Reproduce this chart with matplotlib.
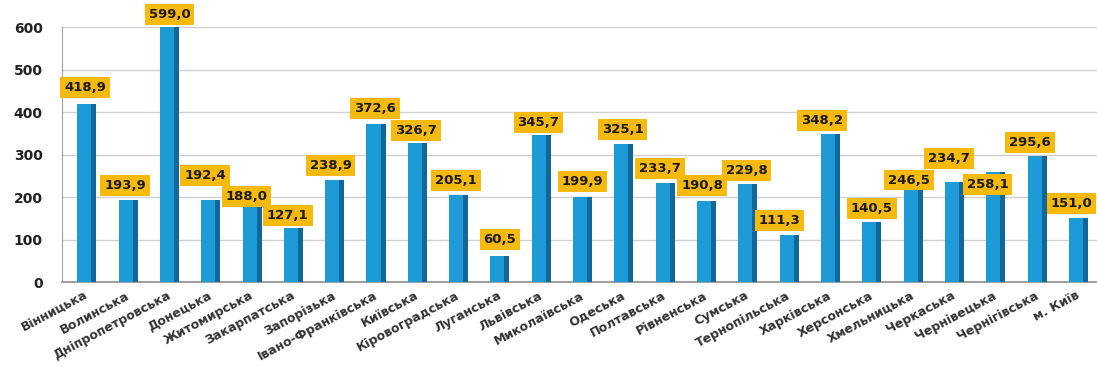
import matplotlib
matplotlib.use("Agg")
import matplotlib.pyplot as plt
import matplotlib.transforms as mtransforms
import numpy as np

regions = ["Вінницька", "Волинська", "Дніпропетровська", "Донецька", "Житомирська",
           "Закарпатська", "Запорізька", "Івано-Франківська", "Київська", "Кіровоградська",
           "Луганська", "Львівська", "Миколаївська", "Одеська", "Полтавська",
           "Рівненська", "Сумська", "Тернопільська", "Харківська", "Херсонська",
           "Хмельницька", "Черкаська", "Чернівецька", "Чернігівська", "м. Київ"]
values = [418.9, 193.9, 599.0, 192.4, 188.0, 127.1, 238.9, 372.6, 326.7, 205.1,
          60.5, 345.7, 199.9, 325.1, 233.7, 190.8, 229.8, 111.3, 348.2, 140.5,
          246.5, 234.7, 258.1, 295.6, 151.0]
yticks = [0, 100, 200, 300, 400, 500, 600]

# label offsets (points) relative to bar top
label_dx = [-1, -2, 0, -4, -4, -4, -3, -1, -1, -2, 0, -2, 0, -1, -4, -3, -1, -7, -6, 0,
            -3, -4, -6, -5, -5]
label_dy = [12, 10, 9, 18, 4, 9, 11, 11, 9, 10, 12, 9, 11, 10, 10, 11, 10, 10, 10, 10,
            -2, 17, -9, 10, 10]

fig = plt.figure(figsize=(10.97, 3.67), dpi=100)
ax = fig.add_axes([0.0565, 0.2316, 0.9435, 0.6948])

x = np.arange(len(values))
front_w = 0.34
side_w = 0.12
ax.bar(x - side_w / 2, values, width=front_w, color="#1d9bd6", zorder=3)
ax.bar(x + front_w / 2, values, width=side_w, color="#11679a", zorder=3)

ax.set_xlim(-0.6, 24.45)
ax.set_ylim(0, 600)
ax.set_yticks(yticks)
ax.set_yticklabels([str(v) for v in yticks], fontsize=10, fontweight="bold", color="#222222")
ax.yaxis.grid(True, color="#d0d0d0", linewidth=1.0, zorder=0)
ax.set_axisbelow(True)
for s in ["top", "right"]:
    ax.spines[s].set_visible(False)
ax.spines["left"].set_color("#a0a0a0")
ax.spines["bottom"].set_color("#a0a0a0")
ax.spines["bottom"].set_linewidth(1.5)
ax.tick_params(axis="y", length=0, pad=14)
ax.tick_params(axis="x", length=0, pad=5)

ax.set_xticks(x)
ax.set_xticklabels(regions, rotation=28, ha="right", rotation_mode="anchor",
                   fontsize=9, fontweight="bold", color="#333333")
offset = mtransforms.ScaledTranslation(-2 / 72, 0, fig.dpi_scale_trans)
for lab in ax.get_xticklabels():
    lab.set_transform(lab.get_transform() + offset)

for xi, v, dx, dy in zip(x, values, label_dx, label_dy):
    ax.annotate(f"{v:.1f}".replace(".", ","), (xi, v), xytext=(dx, dy),
                textcoords="offset points", ha="center", va="center",
                fontsize=9.5, fontweight="bold", color="#1a1a1a", zorder=5,
                bbox=dict(boxstyle="square,pad=0.3", fc="#f7b90b", ec="none"),
                annotation_clip=False)

fig.savefig("out.png", dpi=100)
